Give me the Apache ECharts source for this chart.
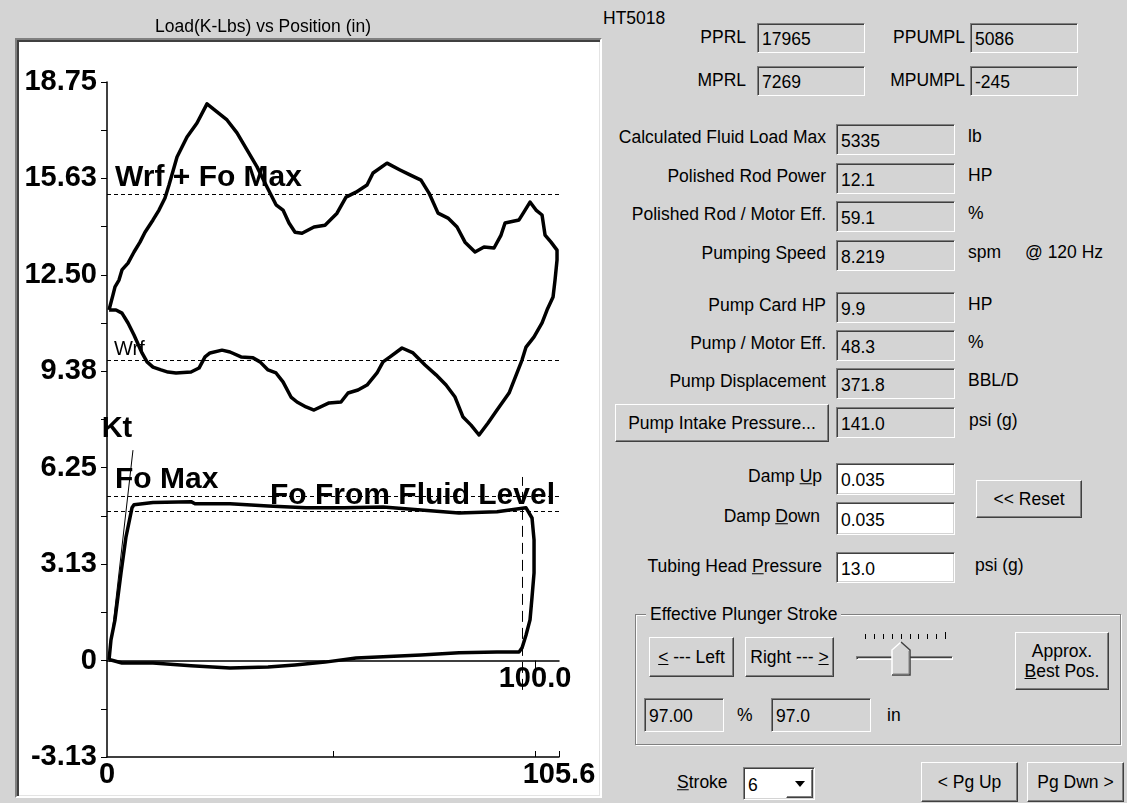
<!DOCTYPE html>
<html><head><meta charset="utf-8">
<script src="https://cdn.jsdelivr.net/npm/echarts@6/dist/echarts.min.js"></script>
<style>
html,body{margin:0;padding:0;}
body{width:1127px;height:803px;overflow:hidden;background:#d4d4d4;position:relative;font-family:'Liberation Sans',Arial,sans-serif;font-size:17.5px;color:#000;}
#panel{position:absolute;left:15px;top:38px;width:587px;height:760px;box-sizing:border-box;background:#fff;border-style:solid;border-width:2px;border-color:#808080 #fff #fff #808080;box-shadow:inset 2px 2px 0 #404040, inset -1px -1px 0 #e4e4e4;}
#chart{position:absolute;left:0;top:0;width:1127px;height:803px;z-index:2;pointer-events:none;}
.t{position:absolute;white-space:nowrap;line-height:1;}
.box{position:absolute;box-sizing:border-box;border-style:solid;border-width:1px;border-color:#808080 #fff #fff #808080;box-shadow:inset 1px 1px 0 #404040, inset -1px -1px 0 #d4d4d4;padding-left:4px;padding-top:3px;display:flex;align-items:center;white-space:nowrap;}
.box.w{background:#fff;}
.btn{position:absolute;box-sizing:border-box;border-style:solid;border-width:1px;border-color:#fff #404040 #404040 #fff;box-shadow:inset -1px -1px 0 #808080;display:flex;align-items:center;justify-content:center;text-align:center;line-height:1.15;white-space:nowrap;}
.grp{position:absolute;box-sizing:border-box;border:1px solid #808080;box-shadow:inset 1px 1px 0 #fff, 1px 1px 0 #fff;}
</style>
</head><body>
<div id="panel"></div>
<div id="ui"></div>
<div id="chart"></div>
<script>
// ---------------- chart data ----------------
const xMax = 105.6;
const yMin = -3.125;
const yMax = 18.75;
const yStep = 1.5625;
const yLabelValues = [-3.125, 0, 3.125, 6.25, 9.375, 12.5, 15.625, 18.75];
const yTickLabels = ['-3.13', '0', '3.13', '6.25', '9.38', '12.50', '15.63', '18.75'];
const xLabelValues = [0, 105.6];
const xTickLabels = ['0', '105.6'];
const xBottomTicks = [52.8, 100, 105.6];
const xZeroTicks = [100];
const xZeroLabels = ['100.0'];

// surface card (load in K-lbs vs position in inches): upstroke then downstroke
const surfaceUp = [
  [0.47,11.36],[1.40,11.85],[1.87,12.11],[2.80,12.33],[3.50,12.66],[4.91,12.88],[6.31,13.24],
  [7.71,13.56],[8.88,13.88],[10.75,14.28],[12.15,14.60],[13.55,14.99],[14.49,15.41],[16.36,16.32],
  [18.69,16.97],[21.03,17.42],[23.36,18.04],[25.70,17.78],[28.04,17.52],[30.37,17.10],[32.71,16.55],
  [35.05,16.00],[37.38,15.35],[39.49,14.77],[41.12,14.60],[42.52,14.18],[43.93,13.88],[45.56,13.85],
  [48.36,14.05],[50.93,14.11],[53.74,14.50],[55.84,15.02],[58.18,15.18],[60.75,15.41],[62.15,15.80],
  [65.42,16.12],[68.46,15.90],[70.79,15.74],[73.36,15.57],[75.23,15.15],[77.34,14.50],[79.67,14.34],
  [81.78,14.05],[83.64,13.56],[85.98,13.24],[88.08,13.40],[90.42,13.37],[92.06,13.79],[92.99,14.18],
  [96.26,14.28],[97.43,14.54],[98.83,14.86],[100.23,14.60],[101.64,14.44],[102.34,13.79],[103.74,13.56],
  [105.14,13.30],[105.14,12.98]
];
const surfaceDown = [
  [104.67,12.33],[104.21,11.78],[102.80,11.36],[101.64,10.94],[99.77,10.49],[97.90,10.16],[96.96,9.74],
  [95.79,9.32],[93.93,8.67],[91.12,8.12],[89.02,7.70],[86.92,7.31],[85.05,7.63],[83.18,7.89],
  [81.31,8.54],[79.21,8.93],[76.87,9.26],[74.30,9.58],[71.50,9.97],[68.93,10.13],[66.12,9.84],
  [64.49,9.68],[63.08,9.32],[60.75,8.93],[58.64,8.77],[56.31,8.67],[54.67,8.38],[51.87,8.35],
  [48.36,8.12],[46.50,8.22],[44.39,8.38],[42.99,8.54],[41.12,9.03],[39.49,9.32],[37.62,9.42],
  [35.75,9.68],[34.11,9.81],[31.31,9.84],[28.74,10.00],[26.87,10.06],[24.07,9.97],[22.90,9.84],
  [21.50,9.48],[19.63,9.35],[16.12,9.32],[14.25,9.35],[12.62,9.42],[10.75,9.51],[9.35,9.68],
  [8.18,9.97],[6.31,10.55],[4.91,10.94],[3.50,11.26],[2.10,11.36],[0.47,11.36]
];
// pump card
const pumpCard = [
  [0.47,0.02],[0.93,0.67],[1.87,1.32],[3.27,2.84],[4.44,4.01],[5.84,4.95],[6.31,5.05],[10.75,5.12],
  [19.63,5.15],[20.56,5.08],[28.74,5.08],[37.62,5.01],[46.50,4.95],[55.37,4.95],[64.49,4.98],
  [73.36,4.88],[82.24,4.78],[91.12,4.82],[97.90,4.95],[99.30,4.62],[99.77,3.91],[99.77,2.84],
  [99.30,2.06],[98.83,1.32],[97.90,0.83],[96.96,0.41],[96.26,0.28],[91.12,0.28],[82.24,0.25],
  [73.36,0.18],[64.49,0.12],[58.18,0.08],[50.93,-0.05],[43.93,-0.14],[37.62,-0.21],[28.74,-0.24],
  [19.63,-0.17],[10.75,-0.08],[3.50,-0.08],[0.93,0.02],[0.47,0.02]
];
const ktLine = [[0.47,0],[6.07,6.82]];
const wrfPlusFoMax = 15.12;
const wrf = 9.73;
const foFromFluidLevel = 5.33;
const foMax = 4.85;
const plungerStroke = 97.0;
const plungerLineRange = [-0.95, 5.95];

// ---------------- UI (right panel) ----------------
const ui = document.getElementById('ui');
function add(html){ ui.insertAdjacentHTML('beforeend', html); }
function lblR(text, right, cy){ add(`<div class="t" style="right:${1127-right}px;top:${cy}px;transform:translateY(-50%)">${text}</div>`); }
function lblL(text, left, cy){ add(`<div class="t" style="left:${left}px;top:${cy}px;transform:translateY(-50%)">${text}</div>`); }
function box(val, x1, y1, x2, y2, white){ add(`<div class="box${white?' w':''}" style="left:${x1}px;top:${y1}px;width:${x2-x1}px;height:${y2-y1}px">${val}</div>`); }
function btn(html, x1, y1, x2, y2){ add(`<div class="btn" style="left:${x1}px;top:${y1}px;width:${x2-x1}px;height:${y2-y1}px">${html}</div>`); }

lblL('HT5018', 603, 19);
lblR('PPRL', 746, 38); box('17965', 757, 23, 865, 53);
lblR('PPUMPL', 965, 38); box('5086', 970, 23, 1078, 53);
lblR('MPRL', 746, 81); box('7269', 757, 66, 865, 96);
lblR('MPUMPL', 965, 81); box('-245', 970, 66, 1078, 96);

const rows = [
  ['Calculated Fluid Load Max', '5335', 'lb', 124],
  ['Polished Rod Power', '12.1', 'HP', 163],
  ['Polished Rod / Motor Eff.', '59.1', '%', 201],
  ['Pumping Speed', '8.219', 'spm', 240],
  ['Pump Card HP', '9.9', 'HP', 292],
  ['Pump / Motor Eff.', '48.3', '%', 330],
  ['Pump Displacement', '371.8', 'BBL/D', 368]
];
rows.forEach(r => { lblR(r[0], 826, r[3]+14); box(r[1], 836, r[3], 955, r[3]+31); lblL(r[2], 968, r[3]+13); });
lblL('@ 120 Hz', 1025, 253);
btn('Pump Intake Pressure...', 615, 404, 829, 442);
box('141.0', 836, 407, 955, 438); lblL('psi (g)', 969, 421);
lblR('Damp <u>U</u>p', 822, 477); box('0.035', 836, 463, 955, 495, true);
lblR('Damp <u>D</u>own', 820, 517); box('0.035', 836, 502, 955, 535, true);
btn('&lt;&lt; Reset', 976, 480, 1082, 518);
lblR('Tubing Head <u>P</u>ressure', 822, 567); box('13.0', 836, 552, 955, 583, true); lblL('psi (g)', 975, 566);
add('<div class="grp" style="left:635px;top:614px;width:486px;height:131px"></div>');
add('<div class="t" style="left:646px;top:615px;transform:translateY(-50%);background:#d4d4d4;padding:0 4px">Effective Plunger Stroke</div>');
btn('<span><u>&lt;</u> --- Left</span>', 649, 637, 734, 677);
btn('<span>Right --- <u>&gt;</u></span>', 745, 637, 834, 677);
btn('<span>Approx.<br><u>B</u>est Pos.</span>', 1015, 632, 1109, 690);
// slider
add('<div style="position:absolute;left:856px;top:656px;width:97px;height:4px;box-sizing:border-box;border-top:1px solid #808080;border-left:1px solid #808080;border-bottom:1px solid #fff;border-right:1px solid #fff;box-shadow:inset 1px 1px 0 #404040"></div>');
for (let i = 0; i < 10; i++) {
  const x = Math.round(865 + i * 8.9);
  add(`<div style="position:absolute;left:${x}px;top:${i===9?632:634}px;width:1px;height:${i===9?7:5}px;background:#000"></div>`);
}
add('<svg style="position:absolute;left:891px;top:641px" width="21" height="36"><polygon points="1,9 10,1 19,9 19,34 1,34" fill="#d4d4d4"/><polyline points="1,34 1,9 10,1" fill="none" stroke="#fff" stroke-width="1.5"/><polyline points="10,1 19,9 19,34 1,34" fill="none" stroke="#404040" stroke-width="1.5"/><polyline points="18,10 18,33 2,33" fill="none" stroke="#808080" stroke-width="1"/></svg>');
box('97.00', 644, 698, 724, 732); lblL('%', 737, 716);
box('97.0', 771, 698, 871, 732); lblL('in', 887, 716);
lblL('<u>S</u>troke', 677, 783);
box('6', 743, 767, 815, 800, true);
add('<div class="btn" style="left:786px;top:769px;width:27px;height:29px"><div style="width:0;height:0;border-left:5px solid transparent;border-right:5px solid transparent;border-top:6px solid #000"></div></div>');
btn('&lt; Pg Up', 921, 762, 1018, 802);
btn('Pg Dwn &gt;', 1027, 762, 1124, 802);

// ---------------- chart ----------------
const chart = echarts.init(document.getElementById('chart'), null, {renderer: 'canvas'});
const bold = {fontFamily: 'Liberation Sans', fontWeight: 'bold', color: '#000'};
const axisLineStyle = {color: '#000', width: 1.5};
const option = {
  animation: false,
  backgroundColor: 'transparent',
  title: {
    text: 'Load(K-Lbs) vs Position (in)', left: 258, top: 13, textAlign: 'center',
    textStyle: {fontFamily: 'Liberation Sans', fontWeight: 'normal', fontSize: 17.5, color: '#000'}
  },
  grid: {left: 107, top: 82, width: 452, height: 675, containLabel: false, outerBoundsMode: 'none'},
  xAxis: [{
    type: 'value', min: 0, max: xMax, position: 'bottom',
    axisLine: {onZero: false, lineStyle: axisLineStyle},
    axisTick: {show: true, inside: true, length: 6, customValues: xBottomTicks, lineStyle: {color: '#000', width: 1}},
    axisLabel: {customValues: xLabelValues, formatter: v => xTickLabels[xLabelValues.indexOf(v)], margin: 3, fontSize: 29, ...bold},
    splitLine: {show: false}
  }, {
    type: 'value', min: 0, max: xMax, position: 'bottom',
    axisLine: {onZero: true, lineStyle: axisLineStyle},
    axisTick: {show: true, inside: false, length: 9, customValues: xZeroTicks, lineStyle: {color: '#000', width: 1}},
    axisLabel: {show: false},
    splitLine: {show: false}
  }],
  yAxis: {
    type: 'value', min: yMin, max: yMax, interval: yStep,
    axisLine: {onZero: false, lineStyle: axisLineStyle},
    axisTick: {show: true, inside: false, length: 6, lineStyle: {color: '#000', width: 1}},
    axisLabel: {customValues: yLabelValues, formatter: v => yTickLabels[yLabelValues.indexOf(v)], margin: 10, fontSize: 29, ...bold},
    splitLine: {show: false}
  },
  series: [{
    type: 'line', name: 'Surface', data: surfaceUp.concat(surfaceDown), showSymbol: false, symbol: 'none',
    lineStyle: {color: '#000', width: 3.5, join: 'round'}, z: 5, silent: true
  }, {
    type: 'line', name: 'Pump', data: pumpCard, showSymbol: false, symbol: 'none',
    lineStyle: {color: '#000', width: 3.5, join: 'round'}, z: 5, silent: true
  }, {
    type: 'line', name: 'Kt', data: ktLine, showSymbol: false, symbol: 'none',
    lineStyle: {color: '#000', width: 1}, z: 4, silent: true,
    markPoint: {
      symbol: 'circle', symbolSize: 0, silent: true,
      data: [
        {coord: ktLine[1], label: {show: true, formatter: 'Kt', position: 'inside', offset: [-16, -21], fontSize: 29, ...bold}},
        {coord: [xZeroTicks[0], 0], label: {show: true, formatter: xZeroLabels[0], position: 'bottom', distance: 4, fontSize: 29, ...bold}}
      ]
    },
    markLine: {
      silent: true, symbol: ['none', 'none'], animation: false,
      lineStyle: {color: '#000', width: 1, type: [4, 3]},
      data: [
        {yAxis: wrfPlusFoMax, label: {formatter: 'Wrf + Fo Max', position: 'insideStartTop', distance: [8, 1], fontSize: 30, ...bold}},
        {yAxis: wrf, label: {formatter: 'Wrf', position: 'insideStartTop', distance: [7, 1], fontSize: 20, fontFamily: 'Liberation Sans', fontWeight: 'normal', color: '#000'}},
        {yAxis: foFromFluidLevel, label: {formatter: 'Fo From Fluid Level', position: 'insideEnd', distance: [4, 0], fontSize: 30, ...bold}},
        {yAxis: foMax, label: {formatter: 'Fo Max', position: 'insideStartTop', distance: [8, 16], fontSize: 30, ...bold}},
        [{coord: [plungerStroke, plungerLineRange[0]], lineStyle: {type: [11, 6]}, label: {show: false}},
         {coord: [plungerStroke, plungerLineRange[1]]}]
      ]
    }
  }]
};
chart.setOption(option);
</script>
</body></html>
